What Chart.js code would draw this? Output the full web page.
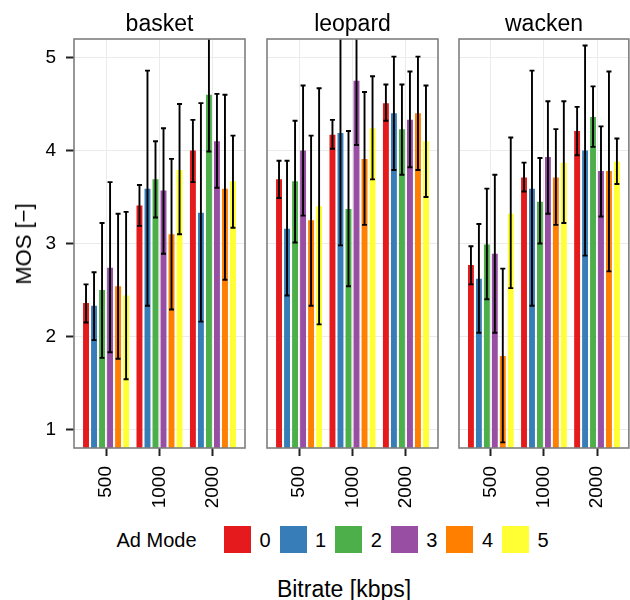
<!DOCTYPE html>
<html>
<head>
<meta charset="utf-8">
<script src="https://cdn.jsdelivr.net/npm/chart.js@4"></script>
<style>
  body { margin: 0; background: #fff; font-family: "Liberation Sans", Arial, sans-serif; color: #000; }
  #wrap { position: relative; width: 630px; height: 600px; overflow: hidden; }
  canvas { position: absolute; top: 0; }
  .txt { position: absolute; white-space: nowrap; line-height: 1; }
  .key { position: absolute; width: 27px; height: 27px; }
</style>
</head>
<body>
<div id="wrap">
  <canvas id="c0" width="248" height="520" style="left:0px"></canvas>
  <canvas id="c1" width="177" height="520" style="left:264px"></canvas>
  <canvas id="c2" width="174" height="520" style="left:456px"></canvas>
  <div class="txt" style="left:159.5px; top:12px; font-size:23px; transform:translateX(-50%)">basket</div>
  <div class="txt" style="left:352.5px; top:12px; font-size:23px; transform:translateX(-50%)">leopard</div>
  <div class="txt" style="left:544px; top:12px; font-size:23px; transform:translateX(-50%)">wacken</div>
  <div class="txt" style="left:24px; top:244px; font-size:22px; transform:translate(-50%,-50%) rotate(-90deg)">MOS [−]</div>
  <div class="txt" style="left:344px; top:578px; font-size:23px; transform:translateX(-50%)">Bitrate [kbps]</div>
  <div class="txt" style="left:116.5px; top:530px; font-size:20px">Ad Mode</div>
  <div id="legend"></div>
</div>
<script>
const bitrates = ['500', '1000', '2000'];
const adModes = ['0', '1', '2', '3', '4', '5'];
const colors = ['#E41A1C', '#377EB8', '#4DAF4A', '#984EA3', '#FF7F00', '#FFFF33'];
const yTicks = [1, 2, 3, 4, 5];

// rows = ad mode, columns = bitrate
const basketMOS  = [[2.36, 3.41, 4.00], [2.33, 3.59, 3.33], [2.50, 3.69, 4.60], [2.74, 3.57, 4.10], [2.54, 3.10, 3.59], [2.44, 3.79, 3.67]];
const basketLow  = [[2.15, 3.19, 3.66], [1.96, 2.33, 2.16], [1.77, 3.28, 3.99], [1.83, 2.89, 3.60], [1.76, 2.29, 2.61], [1.54, 3.10, 3.17]];
const basketHigh = [[2.56, 3.63, 4.33], [2.69, 4.86, 4.51], [3.22, 4.10, 5.21], [3.66, 4.24, 4.61], [3.32, 3.91, 4.60], [3.34, 4.50, 4.16]];

const leopardMOS  = [[3.69, 4.17, 4.51], [3.16, 4.19, 4.40], [3.67, 3.37, 4.23], [4.00, 4.75, 4.33], [3.25, 3.91, 4.40], [3.40, 4.24, 4.10]];
const leopardLow  = [[3.49, 4.02, 4.32], [2.44, 2.98, 3.79], [3.01, 2.54, 3.74], [3.30, 4.06, 3.82], [2.33, 3.20, 3.79], [2.13, 3.69, 3.50]];
const leopardHigh = [[3.89, 4.33, 4.71], [3.89, 5.41, 5.01], [4.32, 4.21, 4.71], [4.70, 5.44, 4.85], [4.16, 4.63, 5.01], [4.67, 4.80, 4.70]];

const wackenMOS  = [[2.77, 3.71, 4.21], [2.62, 3.59, 4.00], [2.99, 3.45, 4.36], [2.89, 3.93, 3.78], [1.79, 3.71, 3.78], [3.32, 3.87, 3.88]];
const wackenLow  = [[2.56, 3.56, 3.95], [2.04, 2.33, 2.87], [2.40, 3.00, 4.04], [2.04, 3.32, 3.29], [0.86, 3.20, 2.70], [2.52, 3.22, 3.64]];
const wackenHigh = [[2.97, 3.87, 4.47], [3.21, 4.86, 5.13], [3.59, 3.92, 4.69], [3.74, 4.53, 4.26], [2.73, 4.23, 4.85], [4.14, 4.53, 4.13]];

// legend
const legend = document.getElementById('legend');
adModes.forEach((m, i) => {
  const x = 224 + i * 55.6;
  legend.insertAdjacentHTML('beforeend',
    '<div class="key" style="left:' + x + 'px; top:526px; background:' + colors[i] + '"></div>' +
    '<div class="txt" style="left:' + (x + 35.5) + 'px; top:530px; font-size:20px">' + m + '</div>');
});

// error bars, clipped to the panel like coord_cartesian
const errorBars = {
  id: 'errorBars',
  afterDatasetsDraw(chart, args, opts) {
    const ctx = chart.ctx, area = chart.chartArea, y = chart.scales.y;
    ctx.save();
    ctx.beginPath();
    ctx.rect(area.left, area.top, area.right - area.left, area.bottom - area.top);
    ctx.clip();
    ctx.strokeStyle = '#000';
    ctx.lineWidth = 1.9;
    chart.data.datasets.forEach((ds, i) => {
      chart.getDatasetMeta(i).data.forEach((bar, j) => {
        const lo = y.getPixelForValue(opts.low[i][j]);
        const hi = y.getPixelForValue(opts.high[i][j]);
        ctx.beginPath();
        ctx.moveTo(bar.x, lo); ctx.lineTo(bar.x, hi);
        ctx.moveTo(bar.x - 2.5, lo); ctx.lineTo(bar.x + 2.5, lo);
        ctx.moveTo(bar.x - 2.5, hi); ctx.lineTo(bar.x + 2.5, hi);
        ctx.stroke();
      });
    });
    ctx.restore();
  }
};

const panelBorder = {
  id: 'panelBorder',
  afterDraw(chart) {
    const ctx = chart.ctx, a = chart.chartArea;
    ctx.save();
    ctx.strokeStyle = '#7f7f7f';
    ctx.lineWidth = 1.6;
    ctx.strokeRect(a.left, a.top, a.right - a.left, a.bottom - a.top);
    ctx.restore();
  }
};

function makePanel(id, mos, low, high, first, padL, padR) {
  const datasets = adModes.map((m, i) => ({
    label: m,
    data: mos[i].map((v, j) => ({ x: j, y: v })),
    backgroundColor: colors[i],
    categoryPercentage: 0.9,
    barPercentage: 0.74,
    clip: 0
  }));
  return new Chart(document.getElementById(id), {
    type: 'bar',
    data: { datasets: datasets },
    options: {
      responsive: false,
      animation: false,
      layout: { padding: { left: padL, right: padR, top: 39, bottom: 0 } },
      plugins: {
        legend: { display: false },
        tooltip: { enabled: false },
        errorBars: { low: low, high: high }
      },
      scales: {
        x: {
          type: 'linear',
          offset: false,
          min: -0.6, max: 2.6,
          afterBuildTicks: s => { s.ticks = bitrates.map((b, j) => ({ value: j })); },
          afterFit: s => { s.height = 72; },
          grid: { offset: false, color: '#ebebeb', lineWidth: 1, tickColor: '#222', tickWidth: 2, tickLength: 8 },
          border: { display: false },
          ticks: {
            autoSkip: false, maxRotation: 90, minRotation: 90, padding: 10,
            color: '#000', font: { family: 'Liberation Sans', size: 19 },
            callback: v => bitrates[v]
          }
        },
        y: {
          min: 0.8, max: 5.2,
          afterBuildTicks: s => { s.ticks = yTicks.map(v => ({ value: v })); },
          afterFit: s => { s.width = first ? 74 : 0; },
          grid: { color: '#ebebeb', lineWidth: 1, drawTicks: first, tickColor: '#222', tickWidth: 2, tickLength: 8 },
          border: { display: false },
          ticks: {
            display: first, padding: 10,
            color: '#000', font: { family: 'Liberation Sans', size: 19 }
          }
        }
      }
    },
    plugins: [errorBars, panelBorder]
  });
}

makePanel('c0', basketMOS, basketLow, basketHigh, true, 0, 3);
makePanel('c1', leopardMOS, leopardLow, leopardHigh, false, 3, 3);
makePanel('c2', wackenMOS, wackenLow, wackenHigh, false, 3, 1);
</script>
</body>
</html>
